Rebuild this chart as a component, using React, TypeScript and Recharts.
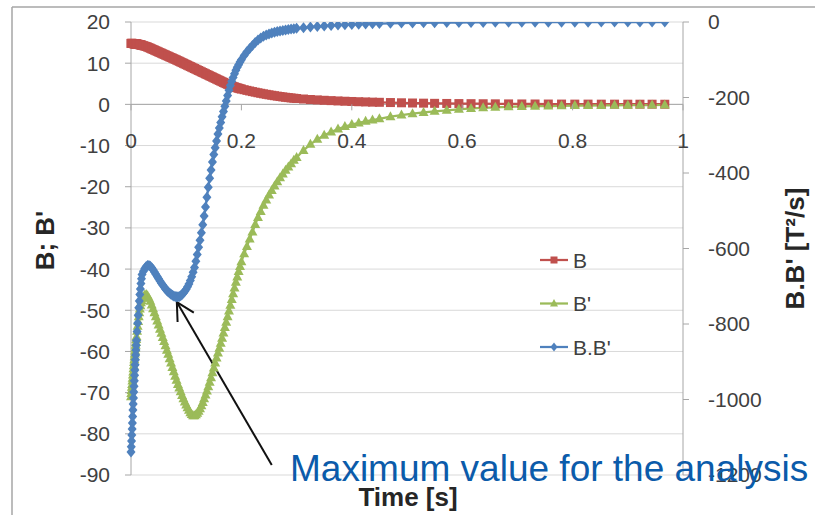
import React from 'react';
import { ComposedChart, Line, XAxis, YAxis, CartesianGrid, ReferenceLine, Legend, Label } from 'recharts';

const time = [
  0, 0.0005, 0.001, 0.0015, 0.002, 0.0025, 0.003, 0.0035, 0.004, 0.0045, 0.005,
  0.0055, 0.006, 0.0065, 0.007, 0.0075, 0.008, 0.0085, 0.009, 0.0095, 0.01,
  0.011, 0.012, 0.013, 0.014, 0.015, 0.016, 0.017, 0.018, 0.019, 0.02,
  0.0225, 0.025, 0.0275, 0.03, 0.0325, 0.035, 0.0375, 0.04, 0.0425, 0.045,
  0.0475, 0.05, 0.0525, 0.055, 0.0575, 0.06, 0.0625, 0.065, 0.0675, 0.07,
  0.0725, 0.075, 0.0775, 0.08, 0.0825, 0.085, 0.0875, 0.09, 0.0925, 0.095,
  0.0975, 0.1, 0.1025, 0.105, 0.1075, 0.11, 0.1125, 0.115, 0.1175, 0.12,
  0.1225, 0.125, 0.1275, 0.13, 0.1325, 0.135, 0.1375, 0.14, 0.1425, 0.145,
  0.1475, 0.15, 0.1525, 0.155, 0.1575, 0.16, 0.1625, 0.165, 0.1675, 0.17,
  0.1725, 0.175, 0.1775, 0.18, 0.1825, 0.185, 0.1875, 0.19, 0.1925, 0.195,
  0.1975, 0.2,
  0.205, 0.21, 0.215, 0.22, 0.225, 0.23, 0.235, 0.24, 0.245, 0.25,
  0.255, 0.26, 0.265, 0.27, 0.275, 0.28, 0.285, 0.29, 0.295, 0.3,
  0.3125, 0.325, 0.3375, 0.35, 0.3625, 0.375, 0.3875, 0.4, 0.4125, 0.425, 0.4375, 0.45,
  0.47, 0.49, 0.51, 0.53, 0.55, 0.572, 0.594, 0.616, 0.638, 0.66,
  0.684, 0.708, 0.732, 0.756, 0.78, 0.804, 0.828, 0.852, 0.876, 0.9,
  0.922, 0.944, 0.967,
];

const bValues = [
  14.8, 14.8, 14.8, 14.8, 14.8, 14.79, 14.78, 14.78, 14.77, 14.76, 14.75,
  14.74, 14.73, 14.72, 14.71, 14.7, 14.69, 14.68, 14.67, 14.66, 14.65,
  14.63, 14.6, 14.58, 14.55, 14.52, 14.49, 14.46, 14.42, 14.38, 14.34,
  14.25, 14.15, 14.05, 13.92, 13.78, 13.63, 13.48, 13.33, 13.18, 13.03,
  12.88, 12.73, 12.58, 12.43, 12.28, 12.13, 11.98, 11.83, 11.68, 11.53,
  11.38, 11.23, 11.08, 10.93, 10.78, 10.62, 10.46, 10.3, 10.14, 9.98,
  9.82, 9.66, 9.5, 9.34, 9.18, 9.02, 8.86, 8.7, 8.54, 8.38,
  8.22, 8.06, 7.9, 7.74, 7.58, 7.42, 7.26, 7.1, 6.94, 6.78,
  6.62, 6.46, 6.3, 6.14, 5.98, 5.82, 5.66, 5.5, 5.34, 5.18,
  5.03, 4.88, 4.74, 4.6, 4.47, 4.35, 4.23, 4.12, 4.01, 3.91,
  3.81, 3.72,
  3.56, 3.4, 3.25, 3.1, 2.96, 2.82, 2.69, 2.56, 2.44, 2.32,
  2.21, 2.1, 2.0, 1.9, 1.81, 1.72, 1.64, 1.56, 1.49, 1.42,
  1.3, 1.18, 1.08, 0.99, 0.91, 0.83, 0.76, 0.7, 0.64, 0.59, 0.54, 0.5,
  0.44, 0.38, 0.33, 0.29, 0.25, 0.22, 0.19, 0.17, 0.15, 0.13,
  0.11, 0.1, 0.09, 0.08, 0.07, 0.06, 0.06, 0.05, 0.05, 0.04,
  0.04, 0.04, 0.03,
];

const bPrimeValues = [
  -71, -70.2, -69.5, -68.7, -68, -67.2, -66.5, -65.7, -65, -64.2, -63.5,
  -62.7, -62, -61.3, -60.6, -59.9, -59.2, -58.5, -57.8, -57.1, -56.4,
  -55.1, -53.9, -52.7, -51.6, -50.6, -49.7, -48.9, -48.2, -47.6, -47.1,
  -46.7, -46.3, -46.2, -46.5, -47.1, -47.8, -48.7, -49.6, -50.6, -51.6,
  -52.6, -53.6, -54.6, -55.6, -56.6, -57.6, -58.6, -59.7, -60.7, -61.8,
  -62.8, -63.9, -64.9, -66, -67, -68, -68.9, -69.8, -70.7, -71.5,
  -72.3, -73, -73.7, -74.3, -74.9, -75.3, -75.6, -75.6, -75.4, -75,
  -74.5, -73.9, -73.2, -72.4, -71.5, -70.6, -69.6, -68.6, -67.5, -66.4,
  -65.2, -64, -62.8, -61.6, -60.4, -59.2, -58, -56.8, -55.5, -54.2,
  -52.9, -51.6, -50.2, -48.8, -47.4, -46, -44.6, -43.2, -41.9, -40.6,
  -39.4, -38.2,
  -36.3, -34.5, -32.7, -31, -29.2, -27.5, -26, -24.5, -23.2, -22,
  -20.9, -19.8, -18.8, -17.8, -16.9, -16, -15.2, -14.4, -13.6, -12.9,
  -11.2, -9.7, -8.5, -7.5, -6.7, -6.0, -5.4, -4.9, -4.5, -4.1, -3.8, -3.5,
  -3.0, -2.6, -2.25, -1.95, -1.7, -1.45, -1.2, -1.0, -0.85, -0.72,
  -0.6, -0.5, -0.45, -0.4, -0.35, -0.3, -0.28, -0.25, -0.22, -0.2,
  -0.18, -0.16, -0.15,
];

const bbPrimeValues = [
  -1139, -1125, -1110, -1094, -1078, -1062, -1045, -1028, -1012, -996, -980,
  -965, -950, -936, -922, -908, -895, -882, -869, -856, -844,
  -820, -798, -777, -757, -739, -722, -707, -693, -680, -669,
  -660, -653, -648, -645, -645, -647, -651, -656, -662, -668,
  -674, -680, -686, -692, -697, -702, -707, -711, -715, -718,
  -721, -724, -726, -727, -728, -728, -727, -725, -722, -718,
  -713, -708, -701, -694, -685, -675, -663, -650, -634, -616,
  -597, -578, -558, -537, -514, -490, -464, -438, -414, -392,
  -371, -351, -333, -315, -297, -281, -266, -251, -237, -223,
  -209, -195, -181, -168, -157, -147, -137, -128, -120, -113,
  -106, -100,
  -89, -79, -70, -62, -54, -48, -42.5, -38, -34.5, -31.5,
  -29, -27, -25.2, -23.6, -22.2, -21, -19.8, -18.7, -17.7, -16.8,
  -15, -13.3, -11.8, -10.4, -9.2, -8.2, -7.3, -6.5, -5.8, -5.2, -4.6, -4.1,
  -3.4, -2.9, -2.5, -2.1, -1.8, -1.6, -1.4, -1.2, -1.05, -0.9,
  -0.8, -0.7, -0.6, -0.52, -0.45, -0.4, -0.35, -0.3, -0.27, -0.24,
  -0.21, -0.19, -0.17,
];

const seriesNames = ['B', "B'", "B.B'"];
const xTicks = [0, 0.2, 0.4, 0.6, 0.8, 1];
const leftTicks = [20, 10, 0, -10, -20, -30, -40, -50, -60, -70, -80, -90];
const rightTicks = [0, -200, -400, -600, -800, -1000, -1200];
const xTitle = 'Time [s]';
const leftTitle = "B; B'";
const rightTitle = "B.B' [T²/s]";
const annotationText = 'Maximum value for the analysis';
// arrow from the annotation text (tail) to the local minimum of B.B' (tip), in left-axis data coordinates
const arrowTail = { x: 0.255, y: -87.6 };
const arrowTip = { x: 0.083, y: -48 };

const data = time.map((t, i) => ({ t, b: bValues[i], bp: bPrimeValues[i], bbp: bbPrimeValues[i] }));

const W = 815;
const H = 515;
const PLOT_TOP = 22;
const PLOT_BOTTOM_GAP = 40;
const LEFT_W = 131;
const RIGHT_W = 132;
const LEFT_MIN = -90;
const LEFT_MAX = 20;
const plotHeight = H - PLOT_TOP - PLOT_BOTTOM_GAP;
const yZero = PLOT_TOP + (plotHeight * (LEFT_MAX - 0)) / (LEFT_MAX - LEFT_MIN);

const RED = '#C0504D';
const GREEN = '#9BBB59';
const BLUE = '#4F81BD';
const AXIS = '#A6A6A6';
const GRID = '#D9D9D9';
const TICK_COLOR = '#404040';
const TITLE_COLOR = '#262626';
const FONT = '"Liberation Sans", Arial, sans-serif';
const TICK_FS = 21;
const TITLE_FS = 26;

const XTick = (props: any) => {
  const { x, payload } = props;
  return (
    <g>
      <line x1={x} x2={x} y1={yZero} y2={yZero + 6} stroke={AXIS} strokeWidth={1} />
      <text x={x} y={yZero + 36} textAnchor="middle" dominantBaseline="central" fill={TICK_COLOR} fontSize={TICK_FS} fontFamily={FONT}>
        {String(payload.value)}
      </text>
    </g>
  );
};

const SquareDot = (p: any) => {
  const { cx, cy, index } = p;
  if (cx == null || cy == null) return <g key={`s${index}`} />;
  return <rect key={`s${index}`} x={cx - 4.5} y={cy - 4.5} width={9} height={9} fill={RED} />;
};
const TriangleDot = (p: any) => {
  const { cx, cy, index } = p;
  if (cx == null || cy == null) return <g key={`t${index}`} />;
  return <polygon key={`t${index}`} points={`${cx},${cy - 5.5} ${cx + 5},${cy + 3.5} ${cx - 5},${cy + 3.5}`} fill={GREEN} />;
};
const DiamondDot = (p: any) => {
  const { cx, cy, index } = p;
  if (cx == null || cy == null) return <g key={`d${index}`} />;
  return <polygon key={`d${index}`} points={`${cx},${cy - 5.5} ${cx + 4.5},${cy} ${cx},${cy + 5.5} ${cx - 4.5},${cy}`} fill={BLUE} />;
};

const ArrowShape = (props: any) => {
  const { x1, y1, x2, y2 } = props;
  if ([x1, y1, x2, y2].some((v) => v == null || isNaN(v))) return <g />;
  const ang = Math.atan2(y1 - y2, x1 - x2);
  const len = 20;
  const spread = (28 * Math.PI) / 180;
  const ax = x2 + len * Math.cos(ang - spread);
  const ay = y2 + len * Math.sin(ang - spread);
  const bx = x2 + len * Math.cos(ang + spread);
  const by = y2 + len * Math.sin(ang + spread);
  return (
    <g>
      <line x1={x1} y1={y1} x2={x2} y2={y2} stroke="#111" strokeWidth={2} />
      <polyline points={`${ax},${ay} ${x2},${y2} ${bx},${by}`} fill="none" stroke="#111" strokeWidth={2} />
    </g>
  );
};

const markerFor = (i: number, cx: number, cy: number, color: string) => {
  if (i === 0) return <rect x={cx - 3.5} y={cy - 3.5} width={7} height={7} fill={color} />;
  if (i === 1) return <polygon points={`${cx},${cy - 4.5} ${cx + 4},${cy + 3} ${cx - 4},${cy + 3}`} fill={color} />;
  return <polygon points={`${cx},${cy - 4.5} ${cx + 3.5},${cy} ${cx},${cy + 4.5} ${cx - 3.5},${cy}`} fill={color} />;
};

const LegendContent = (props: any) => {
  const payload = props.payload || [];
  return (
    <svg width={130} height={130}>
      {payload.map((entry: any, i: number) => {
        const cy = 20 + i * 43.5;
        return (
          <g key={i}>
            <line x1={5} x2={33} y1={cy} y2={cy} stroke={entry.color} strokeWidth={2.25} />
            {markerFor(i, 19, cy, entry.color)}
            <text x={38} y={cy} dominantBaseline="central" fill={TICK_COLOR} fontSize={TICK_FS} fontFamily={FONT}>
              {entry.value}
            </text>
          </g>
        );
      })}
    </svg>
  );
};

export default function App() {
  return (
    <div style={{ position: 'absolute', left: 0, top: 0, width: W, height: H, background: '#fff', fontFamily: FONT }}>
      <ComposedChart
        width={W}
        height={H}
        data={data}
        margin={{ top: PLOT_TOP, right: 0, bottom: 10, left: 0 }}
      >
        <CartesianGrid yAxisId="left" vertical={false} stroke={GRID} strokeWidth={1} />
        <XAxis
          dataKey="t"
          type="number"
          domain={[0, 1]}
          ticks={xTicks}
          interval={0}
          axisLine={false}
          tickLine={false}
          height={30}
          tick={<XTick />}
        >
          <Label
            content={() => (
              <text x={(LEFT_W + (W - RIGHT_W)) / 2 + 1} y={497} textAnchor="middle" dominantBaseline="central" fontWeight="bold" fill={TITLE_COLOR} fontSize={TITLE_FS} fontFamily={FONT}>
                {xTitle}
              </text>
            )}
          />
        </XAxis>
        <YAxis
          yAxisId="left"
          domain={[LEFT_MIN, LEFT_MAX]}
          ticks={leftTicks}
          interval={0}
          width={LEFT_W}
          tickSize={6}
          tickMargin={15}
          axisLine={{ stroke: AXIS }}
          tickLine={{ stroke: AXIS }}
          tick={{ fill: TICK_COLOR, fontSize: TICK_FS, fontFamily: FONT }}
          allowDataOverflow
        >
          <Label
            content={(p: any) => {
              const vb = p.viewBox || { x: 0, y: PLOT_TOP, width: LEFT_W, height: plotHeight };
              const cx = vb.x + 45;
              const cy = vb.y + vb.height / 2 - 8;
              return (
                <text x={cx} y={cy} transform={`rotate(-90 ${cx} ${cy})`} textAnchor="middle" dominantBaseline="central" fontWeight="bold" fill={TITLE_COLOR} fontSize={TITLE_FS} fontFamily={FONT}>
                  {leftTitle}
                </text>
              );
            }}
          />
        </YAxis>
        <YAxis
          yAxisId="right"
          orientation="right"
          domain={[-1200, 0]}
          ticks={rightTicks}
          interval={0}
          width={RIGHT_W}
          tickSize={6}
          tickMargin={19}
          axisLine={{ stroke: AXIS }}
          tickLine={{ stroke: AXIS }}
          tick={{ fill: TICK_COLOR, fontSize: TICK_FS, fontFamily: FONT }}
          allowDataOverflow
        >
          <Label
            content={(p: any) => {
              const vb = p.viewBox || { x: W - RIGHT_W, y: PLOT_TOP, width: RIGHT_W, height: plotHeight };
              const cx = vb.x + 112;
              const cy = vb.y + vb.height / 2;
              return (
                <text x={cx} y={cy} transform={`rotate(-90 ${cx} ${cy})`} textAnchor="middle" dominantBaseline="central" fontWeight="bold" fill={TITLE_COLOR} fontSize={TITLE_FS} fontFamily={FONT}>
                  {rightTitle}
                </text>
              );
            }}
          />
        </YAxis>
        <ReferenceLine yAxisId="left" y={0} stroke={AXIS} strokeWidth={1} />
        <Legend
          layout="horizontal"
          verticalAlign="middle"
          align="center"
          content={<LegendContent />}
          wrapperStyle={{ position: 'absolute', left: 535, top: 240, width: 130, height: 130 }}
        />
        <Line
          yAxisId="left"
          dataKey="b"
          name={seriesNames[0]}
          stroke={RED}
          strokeWidth={2.25}
          dot={SquareDot}
          activeDot={false}
          isAnimationActive={false}
          type="linear"
        />
        <Line
          yAxisId="left"
          dataKey="bp"
          name={seriesNames[1]}
          stroke={GREEN}
          strokeWidth={2.25}
          dot={TriangleDot}
          activeDot={false}
          isAnimationActive={false}
          type="linear"
        />
        <Line
          yAxisId="right"
          dataKey="bbp"
          name={seriesNames[2]}
          stroke={BLUE}
          strokeWidth={2.25}
          dot={DiamondDot}
          activeDot={false}
          isAnimationActive={false}
          type="linear"
        />
        <ReferenceLine
          yAxisId="left"
          segment={[arrowTail, arrowTip]}
          ifOverflow="visible"
          shape={ArrowShape}
        />
      </ComposedChart>
      <svg width={W} height={H} style={{ position: 'absolute', left: 0, top: 0, pointerEvents: 'none' }}>
        <line x1={12} y1={7} x2={W} y2={7} stroke={AXIS} strokeWidth={1.5} />
        <line x1={12} y1={7} x2={12} y2={H} stroke={AXIS} strokeWidth={1.5} />
        <text x={290} y={481} fill="#0B5BAA" fontSize={37} fontFamily={FONT}>
          {annotationText}
        </text>
      </svg>
    </div>
  );
}
